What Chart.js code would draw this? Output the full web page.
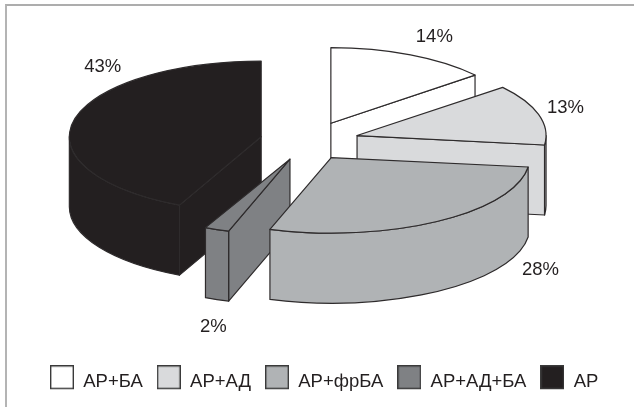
<!DOCTYPE html>
<html>
<head>
<meta charset="utf-8">
<script src="https://cdn.jsdelivr.net/npm/chart.js@4"></script>
<style>
  html, body { margin: 0; padding: 0; background: #fff; width: 634px; height: 407px; overflow: hidden; }
  #wrap { position: absolute; left: 0; top: 0; width: 634px; height: 407px; }
  #frame { position: absolute; left: 5px; top: 4px; width: 629px; height: 403px; border-top: 2px solid #adadad; border-left: 2px solid #b4b4b4; box-sizing: border-box; }
  canvas { position: absolute; left: 0; top: 0; }
</style>
</head>
<body>
<div id="wrap">
  <div id="frame"></div>
  <canvas id="chart" width="634" height="407"></canvas>
</div>
<script>
const categories = ['АР+БА', 'АР+АД', 'АР+фрБА', 'АР+АД+БА', 'АР'];
const shares = [14, 13, 28, 2, 43];
const fills = ['#ffffff', '#d9dadc', '#b0b3b5', '#7f8184', '#231f20'];

const INK = '#2e2b2c';
const SQUASH = 0.4;        // vertical foreshortening of the disc
const DEPTH = 70;          // wall height in pixels
const CENTER_X = 310;      // screen x of the disc centre
const CENTER_Y = 141;      // screen y of the disc centre
const EXPLODE = 49;        // how far each slice is pulled out of the disc
const paintOrder = [0, 1, 4, 3, 2];  // back to front
const widen = [0.99, 1, 1.05, 1.05, 1.015];  // slices nearer the viewer look wider
const apexShift = [0, 0, -5, -2, -1];
const labelNudge = [[23, -18], [27, -7], [103, 49], [-9, 97], [25, -53]];

function swatch(color) {
  const c = document.createElement('canvas');
  c.width = 24; c.height = 33;
  const g = c.getContext('2d');
  g.fillStyle = color;
  g.fillRect(0.5, 0.5, 23, 23);
  g.strokeStyle = '#3a3a3a';
  g.lineWidth = 1.4;
  g.strokeRect(0.7, 0.7, 22.6, 22.6);
  return c;
}

const extrudedPie = {
  id: 'extrudedPie',
  beforeDatasetsDraw(chart) {
    const ctx = chart.ctx;
    const arcs = chart.getDatasetMeta(0).data;
    ctx.save();
    ctx.lineWidth = 1.2;
    ctx.lineJoin = 'round';
    ctx.strokeStyle = INK;
    paintOrder.forEach(i => drawSlice(ctx, arcs[i], i));
    ctx.fillStyle = '#231f20';
    ctx.font = '18.5px "Liberation Sans"';
    ctx.textAlign = 'center';
    ctx.textBaseline = 'middle';
    arcs.forEach((arc, i) => {
      const mid = (arc.startAngle + arc.endAngle) / 2;
      const r = arc.outerRadius + EXPLODE;
      const x = CENTER_X + Math.cos(mid) * r;
      const y = CENTER_Y + Math.sin(mid) * r * SQUASH;
      ctx.fillText(shares[i] + '%', x + labelNudge[i][0], y + labelNudge[i][1]);
    });
    ctx.restore();
    return false;
  }
};

function drawSlice(ctx, arc, i) {
  const fill = fills[i];
  const mid = (arc.startAngle + arc.endAngle) / 2;
  const a0 = arc.startAngle, a1 = arc.endAngle;
  const ax = CENTER_X + Math.cos(mid) * EXPLODE + apexShift[i];
  const ay = CENTER_Y + Math.sin(mid) * EXPLODE * SQUASH;
  const rx = arc.outerRadius * widen[i];
  const ry = arc.outerRadius * SQUASH;

  // Flat radial faces that look towards the viewer
  const radial = (a, normal) => {
    if (Math.sin(normal) <= 1e-6) return;
    const ex = ax + Math.cos(a) * rx;
    const ey = ay + Math.sin(a) * ry;
    ctx.beginPath();
    ctx.moveTo(ax, ay);
    ctx.lineTo(ex, ey);
    ctx.lineTo(ex, ey + DEPTH);
    ctx.lineTo(ax, ay + DEPTH);
    ctx.closePath();
    ctx.fillStyle = fill;
    ctx.fill();
    ctx.stroke();
  };
  radial(a0, a0 - Math.PI / 2);
  radial(a1, a1 + Math.PI / 2);

  // Curved outer wall, only over the front half of the circle
  const norm = a => ((a % (2 * Math.PI)) + 2 * Math.PI) % (2 * Math.PI);
  let s = norm(a0), e = s + (a1 - a0);
  if (s > Math.PI) { if (e > 2 * Math.PI) { s = 2 * Math.PI; } else { e = s; } }
  e = Math.min(e, s <= Math.PI ? Math.PI : 3 * Math.PI);
  if (e > s) {
    ctx.beginPath();
    ctx.ellipse(ax, ay, rx, ry, 0, s, e);
    ctx.ellipse(ax, ay + DEPTH, rx, ry, 0, e, s, true);
    ctx.closePath();
    ctx.fillStyle = fill;
    ctx.fill();
    ctx.stroke();
  }

  // Top of the slice: the library's own arc, foreshortened and pulled out
  ctx.save();
  ctx.translate(ax, ay);
  ctx.scale(widen[i], SQUASH);
  ctx.translate(-arc.x, -arc.y);
  arc.draw(ctx);
  ctx.restore();

  ctx.beginPath();
  ctx.moveTo(ax, ay);
  ctx.ellipse(ax, ay, rx, ry, 0, a0, a1);
  ctx.closePath();
  ctx.stroke();
}

new Chart(document.getElementById('chart'), {
  type: 'pie',
  data: {
    labels: categories,
    datasets: [{
      data: shares,
      backgroundColor: fills,
      borderWidth: 0
    }]
  },
  plugins: [extrudedPie],
  options: {
    responsive: false,
    animation: false,
    radius: 189,
    layout: { padding: { left: 36, right: 0, top: 0, bottom: 6 } },
    plugins: {
      tooltip: { enabled: false },
      legend: {
        position: 'bottom',
        align: 'start',
        labels: {
          usePointStyle: true,
          pointStyleWidth: 24,
          padding: 14,
          color: '#231f20',
          font: { family: '"Liberation Sans"', size: 18.5 },
          generateLabels: () => categories.map((text, i) => ({
            text,
            fontColor: '#231f20',
            pointStyle: swatch(fills[i]),
            datasetIndex: 0,
            index: i
          }))
        }
      }
    }
  }
});
</script>
</body>
</html>
